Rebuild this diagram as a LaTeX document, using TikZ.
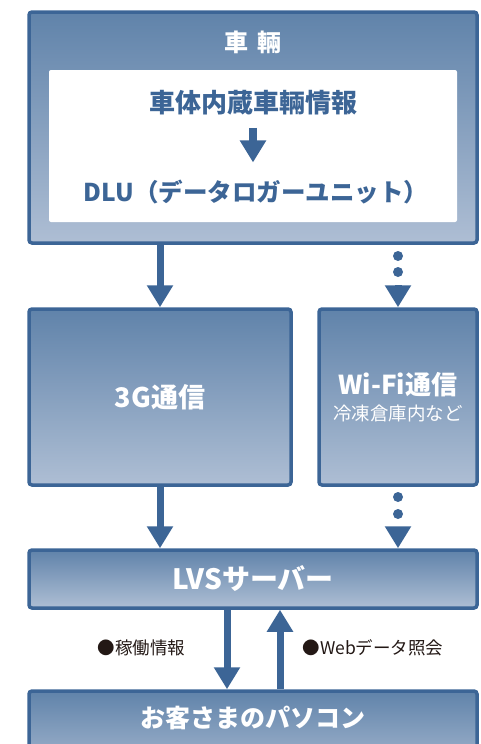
\documentclass[tikz,border=0pt]{standalone}
\usepackage{fontspec}
\setmainfont{Noto Sans CJK JP}
\usetikzlibrary{arrows.meta}

\definecolor{lvsblue}{RGB}{60,101,150}
\definecolor{lvstop}{RGB}{96,131,170}
\definecolor{lvsbot}{RGB}{174,190,212}
\definecolor{lvsnote}{RGB}{35,24,21}

\tikzset{
  unitbox/.style={draw=lvsblue, line width=3.5pt, rounded corners=3pt,
    top color=lvstop, bottom color=lvsbot, inner sep=0pt},
  boxtext/.style={text=white, font=\bfseries\fontsize{26}{30}\selectfont},
  innertext/.style={text=lvsblue, font=\bfseries\fontsize{26}{30}\selectfont},
  flowarrow/.style={draw=lvsblue, line width=7pt, -{Triangle[width=25pt,length=22pt]}},
  dotmark/.style={circle, fill=lvsblue, minimum size=10pt, inner sep=0pt},
  note/.style={text=lvsnote, font=\fontsize{17.5}{20}\selectfont},
}

\begin{document}
\begin{tikzpicture}[x=1pt,y=-1pt]
\useasboundingbox (0,0) rectangle (481,744);

\node[unitbox, minimum width=448pt, minimum height=231pt] (vehicle) at (253,127.5) {};
\node[boxtext, font=\bfseries\fontsize{24}{28}\selectfont] (vehtitle) at (253,42) {車\hspace{0.4em}輛};
\node[fill=white, rounded corners=2pt, minimum width=408pt, minimum height=152pt] (inner) at (253,146) {};
\node[innertext] (carinfo) at (253,103) {車体内蔵車輛情報};
\node[innertext, font=\bfseries\fontsize{24.5}{30}\selectfont] (dlu) at (256,192) {DLU（データロガーユニット）};
\draw[flowarrow, line width=8pt, shorten <=9pt, shorten >=14pt] (carinfo) -- (carinfo |- dlu.north);

\node[unitbox, minimum width=262pt, minimum height=176pt, boxtext,
  font=\bfseries\fontsize{27}{30}\selectfont] (g3) at (160,397) {3G通信};
\node[unitbox, minimum width=158pt, minimum height=176pt, boxtext, align=center] (wifi) at (398,397)
  {Wi-Fi通信\\[-4pt]{\mdseries\fontsize{18.5}{22}\selectfont 冷凍倉庫内など}};

\node[dotmark] (dota) at (398,256) {};
\node[dotmark] (dotb) at (398,272) {};
\node[dotmark] (dotc) at (398,497) {};
\node[dotmark] (dotd) at (398,514) {};

\node[unitbox, minimum width=448pt, minimum height=58pt, boxtext,
  font=\bfseries\fontsize{28}{30}\selectfont] (lvs) at (253,579) {LVSサーバー};
\node[unitbox, minimum width=448pt, minimum height=90pt] (pc) at (253,736) {};
\node[boxtext, font=\bfseries\fontsize{25}{30}\selectfont] (pctext) at (253,718) {お客さまのパソコン};

\draw[flowarrow] (vehicle.south -| g3.north) -- (g3.north);
\draw[flowarrow, shorten <=8pt] (dotb) -- (wifi.north);
\draw[flowarrow] (g3.south) -- (lvs.north -| g3.south);
\draw[flowarrow, shorten <=8pt] (dotd) -- (lvs.north -| dotd);
\draw[flowarrow] ([xshift=-26pt]lvs.south) -- ([xshift=-26pt]pc.north);
\draw[flowarrow] ([xshift=27pt]pc.north) -- ([xshift=27pt]lvs.south);

\node[note, anchor=east] (opinfo) at (189,648) {●稼働情報};
\node[note, anchor=west] (webinfo) at (299,648) {●Webデータ照会};
\end{tikzpicture}
\end{document}
